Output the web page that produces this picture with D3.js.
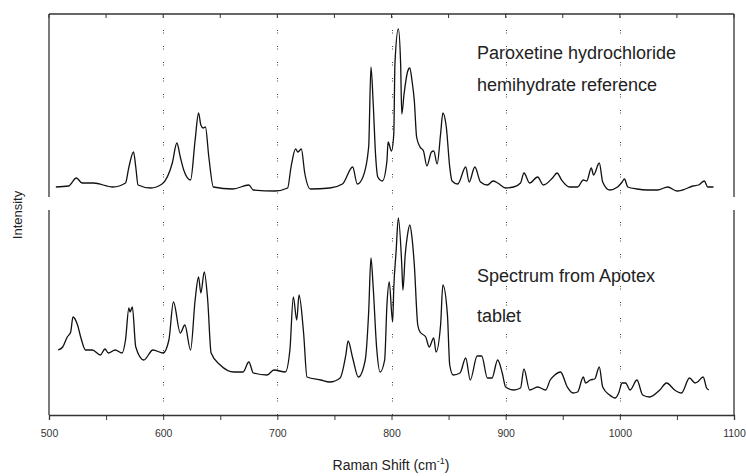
<!DOCTYPE html>
<html>
<head>
<meta charset="utf-8">
<script src="https://cdn.jsdelivr.net/npm/d3@7"></script>
<style>
  body { margin: 0; background: #fff; }
  svg { display: block; font-family: "Liberation Sans", Arial, sans-serif; }
</style>
</head>
<body>
<svg id="chart" width="746" height="476"></svg>
<script>
// reference spectrum (paroxetine HCl hemihydrate): Raman shift, intensity (a.u.)
const refShift = [506,517,524,529,539,556,567,570,574,576,578,589,599,608,612,615,618,624,628,631,633,635,637,640,644,661,675,679,698,709,712,716,718,721,724,729,746,757,766,770,775,780,782,784,786,788,792,796,797,800,802,803,806,808,809,811,814,816,818,820,822,825,828,831,835,837,840,843,845,848,851,853,858,865,868,873,878,884,889,893,900,907,913,916,921,928,933,941,945,949,956,963,968,971,975,977,982,985,991,998,1002,1004,1007,1015,1024,1033,1042,1050,1055,1064,1069,1074,1077,1082];
const refInt = [13,14,22,17,17,13,17,33,48,33,15,12,16,37,57,43,30,20,60,87,75,72,73,43,13,11,15,10,9,12,33,51,48,51,27,11,12,16,33,16,23,53,133,96,46,23,19,39,58,49,66,136,171,136,86,106,128,132,119,99,63,53,49,34,48,49,36,66,87,73,33,19,16,33,18,33,18,15,19,17,12,13,17,27,17,23,15,22,27,20,13,13,20,19,32,25,37,18,10,13,18,21,13,11,10,10,13,9,10,14,15,19,13,13];

// tablet spectrum (Apotex)
const tabShift = [508,512,516,519,521,525,528,532,538,545,549,552,558,564,567,570,571,573,576,583,591,600,605,609,615,619,624,628,631,633,636,639,642,650,662,670,675,679,691,697,707,711,714,717,719,723,726,738,746,755,760,762,766,771,777,780,782,784,787,790,794,796,798,801,802,804,806,809,810,812,814,816,818,820,823,825,830,833,837,839,843,845,849,851,854,860,865,869,875,879,884,888,893,897,900,907,913,916,921,928,935,939,943,948,954,959,963,968,970,974,978,982,985,991,996,999,1002,1005,1009,1015,1020,1026,1035,1041,1048,1054,1061,1066,1068,1073,1076,1078];
const tabInt = [65,68,78,83,98,90,77,65,65,60,66,62,65,62,75,107,103,108,68,55,65,62,75,113,82,90,65,115,138,122,143,115,62,50,43,43,53,42,40,45,43,65,118,95,120,82,38,35,33,37,60,74,57,38,55,103,157,127,67,43,55,110,133,93,127,163,197,150,125,160,180,190,177,150,90,83,78,68,77,63,90,130,100,50,40,42,57,35,59,59,37,37,55,42,28,25,27,46,25,28,25,35,40,43,28,22,23,38,32,35,36,48,28,20,17,22,32,32,25,35,20,18,25,32,25,22,37,32,33,38,27,25];

const xTicks = [500,600,700,800,900,1000,1100];
const minorTicks = d3.range(500, 1101, 50);
const gridAt = [600,700,800,900,1000];
const labels = [
  { panel: 0, lines: ["Paroxetine hydrochloride", "hemihydrate reference"] },
  { panel: 1, lines: ["Spectrum from Apotex", "tablet"] }
];

const svg = d3.select('#chart');
const plotLeft = 49, plotRight = 734, plotTop = 14, plotBottom = 415;

const x = d3.scaleLinear().domain([500, 1100]).range([plotLeft, plotRight]);

// two stacked panels sharing the x axis
const panels = [
  { y0: plotTop, y1: 197, y: d3.scaleLinear().domain([0, 186]).range([200, 14]), shift: refShift, vals: refInt },
  { y0: 210, y1: plotBottom, y: d3.scaleLinear().domain([0, 205]).range([415, 210]), shift: tabShift, vals: tabInt }
];

const axisColor = '#333';

// dotted grid lines
svg.append('g')
  .selectAll('line')
  .data(gridAt)
  .join('line')
  .attr('x1', d => Math.round(x(d)) + 0.5)
  .attr('x2', d => Math.round(x(d)) + 0.5)
  .attr('y1', plotTop)
  .attr('y2', plotBottom)
  .attr('stroke', '#444')
  .attr('stroke-width', 1)
  .attr('stroke-dasharray', '1,1.5,1,12.5');

// frame pieces
panels.forEach(p => {
  [plotLeft, plotRight].forEach(xx => {
    svg.append('line')
      .attr('x1', xx).attr('x2', xx)
      .attr('y1', p.y0).attr('y2', p.y1)
      .attr('stroke', axisColor)
      .attr('stroke-width', 1.3);
  });
});
svg.append('line')
  .attr('x1', plotLeft).attr('x2', plotRight)
  .attr('y1', plotTop).attr('y2', plotTop)
  .attr('stroke', axisColor).attr('stroke-width', 1.3);

// top ticks, pointing inward
svg.append('g')
  .selectAll('line')
  .data(minorTicks)
  .join('line')
  .attr('x1', d => x(d)).attr('x2', d => x(d))
  .attr('y1', plotTop).attr('y2', plotTop + 4)
  .attr('stroke', axisColor).attr('stroke-width', 1);

// bottom axis
const xAxis = d3.axisBottom(x)
  .tickValues(minorTicks)
  .tickSize(5)
  .tickFormat(d => xTicks.includes(d) ? d : '');

const gx = svg.append('g')
  .attr('transform', `translate(0,${plotBottom})`)
  .call(xAxis);
gx.select('.domain').attr('stroke', axisColor).attr('stroke-width', 1.3);
gx.selectAll('.tick line').attr('stroke', axisColor);
gx.selectAll('.tick text')
  .attr('fill', '#333')
  .attr('font-size', 10.5)
  .attr('font-family', '"Liberation Sans", Arial, sans-serif')
  .attr('dy', '1.35em');

// spectra
panels.forEach(p => {
  const line = d3.line()
    .x(d => x(d))
    .y((d, i) => p.y(p.vals[i]))
    .curve(d3.curveMonotoneX);
  svg.append('path')
    .datum(p.shift)
    .attr('d', line)
    .attr('fill', 'none')
    .attr('stroke', '#111')
    .attr('stroke-width', 1.3)
    .attr('stroke-linejoin', 'round');
});

// annotations
const annY = [[59, 91], [282, 322]];
labels.forEach((l, k) => {
  l.lines.forEach((t, j) => {
    svg.append('text')
      .attr('x', 477)
      .attr('y', annY[k][j])
      .attr('font-size', 18)
      .attr('fill', '#222')
      .text(t);
  });
});

// axis titles
svg.append('text')
  .attr('transform', 'translate(22,215) rotate(-90)')
  .attr('text-anchor', 'middle')
  .attr('font-size', 13)
  .attr('fill', '#222')
  .text('Intensity');

const xt = svg.append('text')
  .attr('x', 391)
  .attr('y', 470)
  .attr('text-anchor', 'middle')
  .attr('font-size', 14)
  .attr('fill', '#222');
xt.append('tspan').text('Raman Shift (cm');
xt.append('tspan').attr('font-size', 9).attr('dy', -6).text('-1');
xt.append('tspan').attr('dy', 6).text(')');
</script>
</body>
</html>
